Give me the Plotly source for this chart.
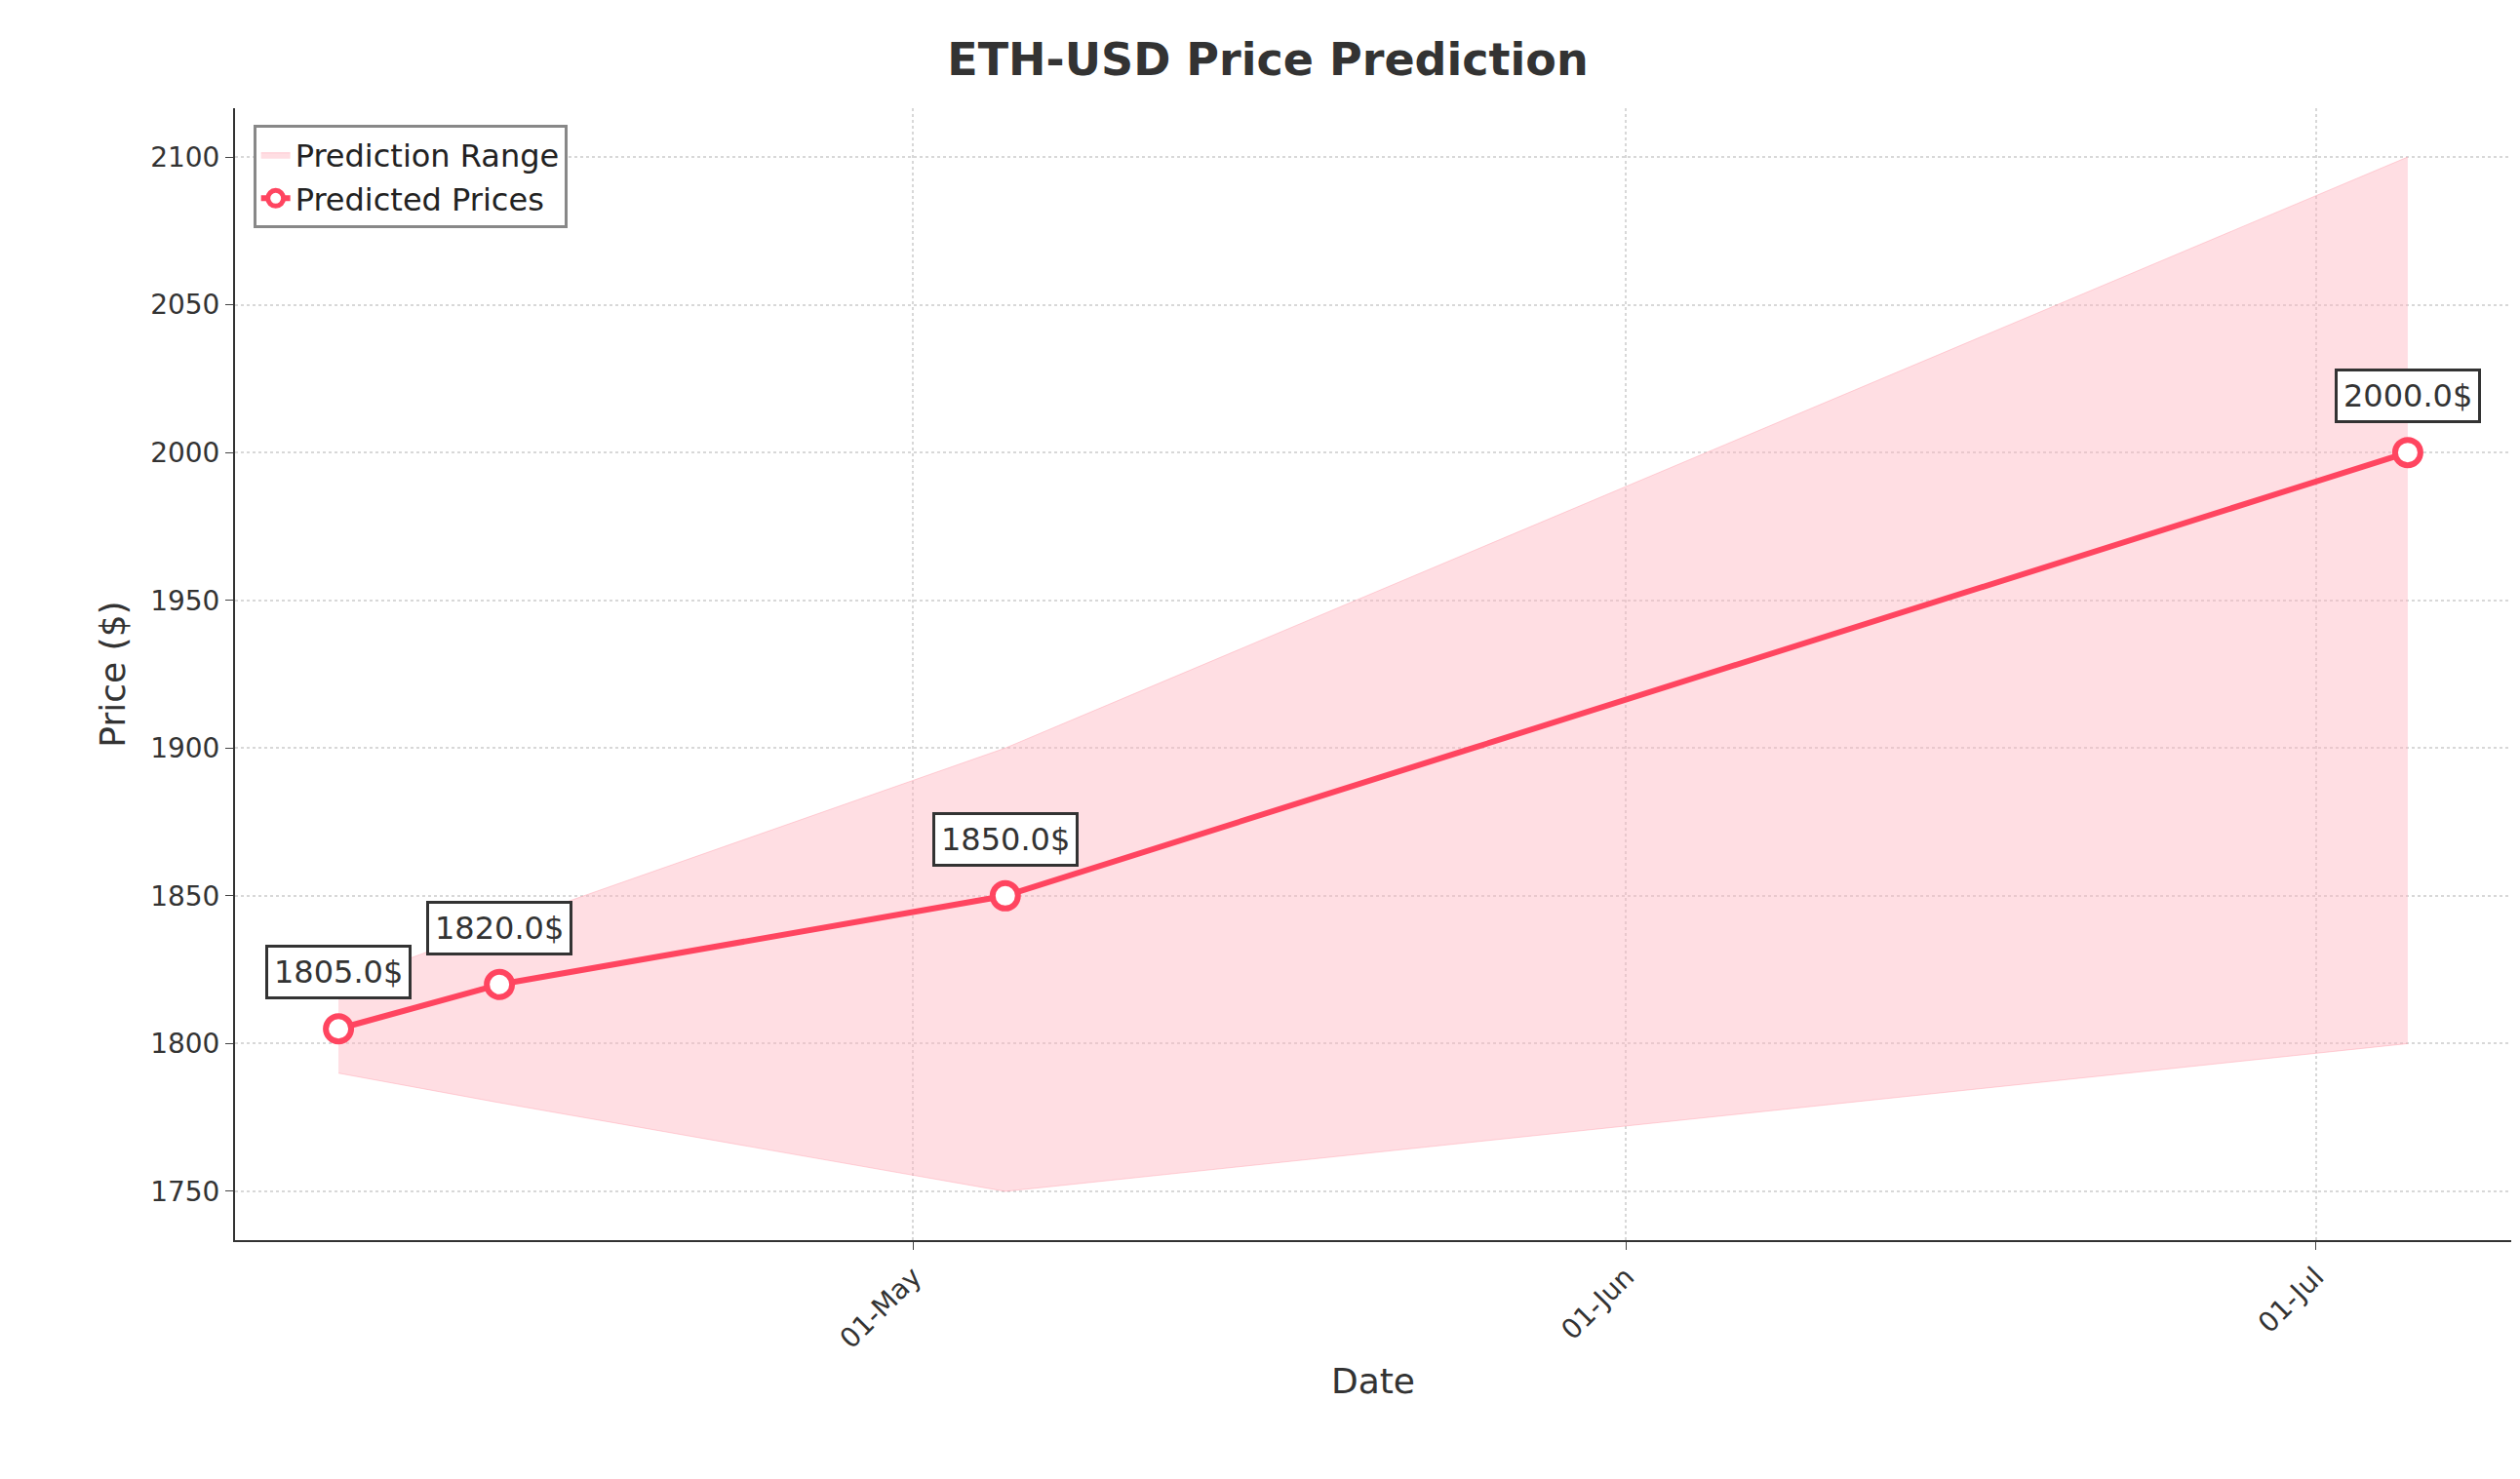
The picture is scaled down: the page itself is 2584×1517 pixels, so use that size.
import plotly.graph_objects as go

dates = ["2023-04-06", "2023-04-13", "2023-05-05", "2023-07-05"]
prices = [1805, 1820, 1850, 2000]
upper = [1820, 1840, 1900, 2100]
lower = [1790, 1780, 1750, 1800]
tick_vals = ["2023-05-01", "2023-06-01", "2023-07-01"]
tick_text = ["01-May", "01-Jun", "01-Jul"]

line_col = "#FF4560"
fig = go.Figure()
fig.add_trace(go.Scatter(x=dates, y=upper, mode="lines", line=dict(width=1, color="rgba(255,150,165,0.4)"),
                         showlegend=False, hoverinfo="skip"))
fig.add_trace(go.Scatter(x=dates, y=lower, mode="lines", fill="tonexty", legendrank=2,
                         fillcolor="rgba(255,182,193,0.45)", line=dict(width=1, color="rgba(255,150,165,0.4)"),
                         name="Prediction Range"))
fig.add_trace(go.Scatter(x=dates, y=prices, mode="lines+markers", name="Predicted Prices", legendrank=1,
                         line=dict(color=line_col, width=6),
                         marker=dict(size=26, color="white", line=dict(color=line_col, width=6))))

for d, p in zip(dates, prices):
    fig.add_annotation(x=d, y=p, text=f"{p:.1f}$", showarrow=False, yshift=58,
                       font=dict(size=32, color="#333"), bgcolor="white",
                       bordercolor="#333", borderwidth=3, borderpad=6)

fig.update_layout(
    width=2584, height=1517, plot_bgcolor="white", paper_bgcolor="white",
    font=dict(family="DejaVu Sans", color="#333"),
    margin=dict(l=233, r=17, t=103, b=253),
    title=dict(text="<b>ETH-USD Price Prediction</b>", x=0.5, y=0.965, xanchor="center", yanchor="middle",
               font=dict(size=46, color="#333")),
    legend=dict(x=0.008, y=0.985, xanchor="left", yanchor="top", bordercolor="#888", borderwidth=3,
                bgcolor="white", font=dict(size=32, color="#222")),
    xaxis=dict(range=["2023-04-01 12:00", "2023-07-09 12:00"], tickvals=tick_vals, ticktext=tick_text,
               tickangle=-45, showline=True, linecolor="#333", linewidth=2, ticks="outside", ticklen=8,
               tickfont=dict(size=28), showgrid=True, gridcolor="#d8d8d8", griddash="dot", gridwidth=2,
               title=dict(text="Date", font=dict(size=36)), zeroline=False),
    yaxis=dict(range=[1733.5, 2116.5], tickvals=[1750, 1800, 1850, 1900, 1950, 2000, 2050, 2100],
               showline=True, linecolor="#333", linewidth=2, ticks="outside", ticklen=8, tickfont=dict(size=28),
               showgrid=True, gridcolor="#d8d8d8", griddash="dot", gridwidth=2,
               title=dict(text="Price ($)", font=dict(size=36)), zeroline=False),
)
fig.write_html("out.html")
